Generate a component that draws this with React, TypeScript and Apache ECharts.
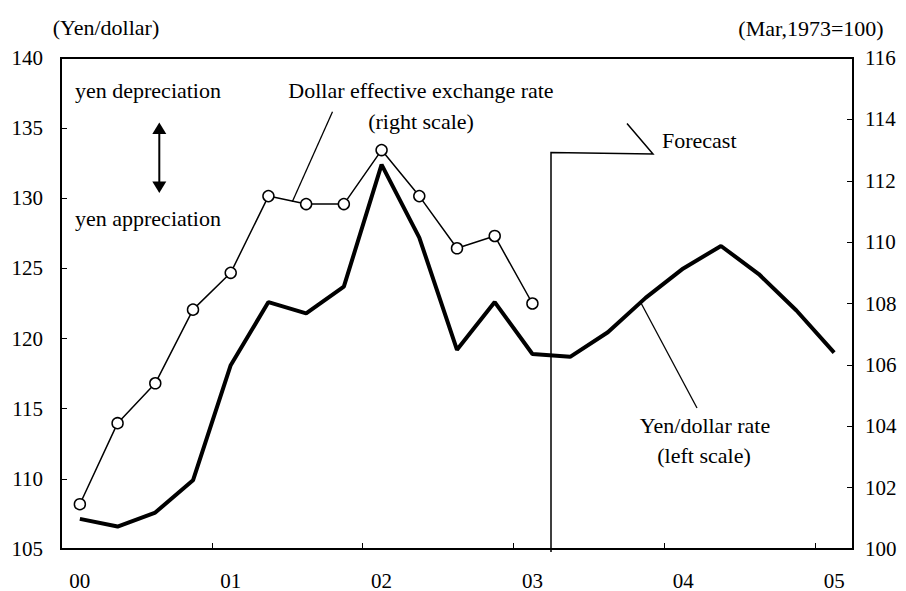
import React, { useEffect, useRef } from "react";
import * as echarts from "echarts";

const FONT = '"Liberation Serif", "Times New Roman", serif';

const quarters = [
  "00Q1", "00Q2", "00Q3", "00Q4",
  "01Q1", "01Q2", "01Q3", "01Q4",
  "02Q1", "02Q2", "02Q3", "02Q4",
  "03Q1", "03Q2", "03Q3", "03Q4",
  "04Q1", "04Q2", "04Q3", "04Q4",
  "05Q1",
];

// Yen/dollar rate (left scale)
const yenDollar = [
  107.15, 106.6, 107.6, 109.9,
  118.1, 122.6, 121.8, 123.7,
  132.4, 127.2, 119.2, 122.6,
  118.9, 118.7, 120.45, 122.9,
  125.0, 126.6, 124.6, 122.0,
  119.0,
];

// Dollar effective exchange rate (right scale)
const dollarEffective = [
  101.46, 104.1, 105.4, 107.8,
  109.0, 111.5, 111.24, 111.24,
  113.0, 111.5, 109.8, 110.2,
  108.0,
];

const leftTicks = { min: 105, max: 140, interval: 5 };
const rightTicks = { min: 100, max: 116, interval: 2 };

function txt(text: string, x: number, y: number, align = "center", size = 22) {
  return {
    type: "text",
    x,
    y,
    silent: true,
    style: {
      text,
      fill: "#000",
      fontFamily: FONT,
      fontSize: size,
      align,
      verticalAlign: "middle",
    },
  };
}

export default function App() {
  const ref = useRef<HTMLDivElement>(null);
  useEffect(() => {
    const chart = echarts.init(ref.current!, null, { renderer: "svg" });
    const axisLabelStyle = { color: "#000", fontFamily: FONT, fontSize: 21 };
    chart.setOption({
      animation: false,
      backgroundColor: "#fff",
      grid: {
        left: 61,
        right: 53,
        top: 58,
        bottom: 39,
        show: true,
        borderColor: "#000",
        borderWidth: 2,
        containLabel: false,
      },
      xAxis: {
        type: "category",
        data: quarters,
        boundaryGap: true,
        axisLine: { show: true, lineStyle: { color: "#000", width: 2 } },
        axisTick: { show: true, inside: true, length: 6, interval: 3, lineStyle: { color: "#000", width: 1 } },
        axisLabel: {
          ...axisLabelStyle,
          interval: 3,
          margin: 21,
          formatter: (v: string) => v.slice(0, 2),
        },
        splitLine: { show: false },
      },
      yAxis: [
        {
          type: "value",
          position: "left",
          ...leftTicks,
          axisLine: { show: true, lineStyle: { color: "#000", width: 2 } },
          axisTick: { show: true, inside: true, length: 6, lineStyle: { color: "#000", width: 1 } },
          axisLabel: { ...axisLabelStyle, margin: 18 },
          splitLine: { show: false },
        },
        {
          type: "value",
          position: "right",
          ...rightTicks,
          axisLine: { show: true, lineStyle: { color: "#000", width: 2 } },
          axisTick: { show: true, inside: true, length: 6, lineStyle: { color: "#000", width: 1 } },
          axisLabel: { ...axisLabelStyle, margin: 12 },
          splitLine: { show: false },
        },
      ],
      series: [
        {
          name: "Yen/dollar rate",
          type: "line",
          yAxisIndex: 0,
          data: yenDollar,
          showSymbol: false,
          symbol: "none",
          lineStyle: { color: "#000", width: 4 },
          z: 3,
        },
        {
          name: "Dollar effective exchange rate",
          type: "line",
          yAxisIndex: 1,
          data: dollarEffective,
          symbol: "circle",
          symbolSize: 11,
          itemStyle: { color: "#fff", borderColor: "#000", borderWidth: 1.5 },
          lineStyle: { color: "#000", width: 1.5 },
          z: 4,
        },
      ],
      graphic: [
        txt("(Yen/dollar)", 106, 27),
        txt("(Mar,1973=100)", 811, 28),
        txt("yen depreciation", 75, 90, "left"),
        txt("yen appreciation", 75, 218, "left"),
        txt("Dollar effective exchange rate", 421, 90),
        txt("(right scale)", 421, 121),
        txt("Forecast", 662, 140, "left"),
        txt("Yen/dollar rate", 705, 425),
        txt("(left scale)", 704, 455),
        // depreciation / appreciation arrow
        {
          type: "line",
          silent: true,
          shape: { x1: 159.3, y1: 132, x2: 159.3, y2: 183 },
          style: { stroke: "#000", lineWidth: 2 },
        },
        {
          type: "polygon",
          silent: true,
          shape: { points: [[159.3, 122.5], [166.3, 134], [152.3, 134]] },
          style: { fill: "#000" },
        },
        {
          type: "polygon",
          silent: true,
          shape: { points: [[159.3, 193], [166.3, 181.5], [152.3, 181.5]] },
          style: { fill: "#000" },
        },
        // leader: dollar effective
        {
          type: "line",
          silent: true,
          shape: { x1: 332.5, y1: 111.7, x2: 292.3, y2: 201.7 },
          style: { stroke: "#000", lineWidth: 1.3 },
        },
        // leader: yen/dollar
        {
          type: "line",
          silent: true,
          shape: { x1: 641, y1: 303, x2: 697, y2: 408 },
          style: { stroke: "#000", lineWidth: 1.3 },
        },
        // forecast divider + callout
        {
          type: "polyline",
          silent: true,
          shape: { points: [[551, 552], [551, 152.5], [653, 154], [627, 123.5]] },
          style: { stroke: "#000", lineWidth: 1.5, fill: null },
        },
      ],
    });
    return () => chart.dispose();
  }, []);
  return (
    <div
      ref={ref}
      style={{ position: "absolute", left: 0, top: 0, width: 906, height: 591 }}
    />
  );
}
